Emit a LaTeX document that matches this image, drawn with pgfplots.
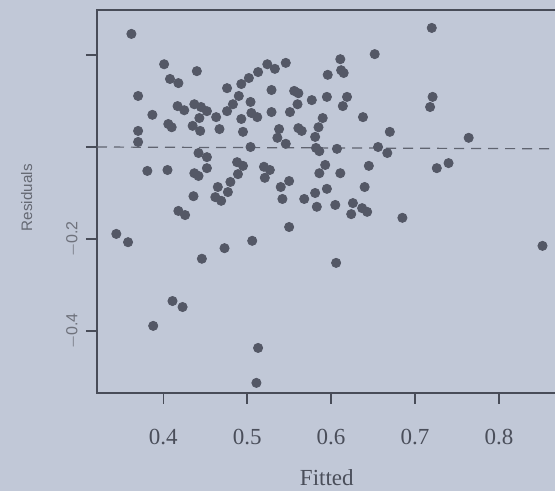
\documentclass[border=0pt]{standalone}
\usepackage{pgfplots}
\pgfplotsset{compat=1.18}
\usepackage{fontspec}
\setmainfont{Liberation Serif}
\newfontfamily\sansf{Liberation Sans}
\definecolor{bgcol}{RGB}{193,200,215}
\definecolor{ptcol}{RGB}{84,88,102}
\definecolor{axcol}{RGB}{72,76,88}
\definecolor{txtcol}{RGB}{74,78,90}
\definecolor{dashcol}{RGB}{96,100,112}
\begin{document}
\begin{tikzpicture}
\fill[bgcol] (0,0) rectangle (277.5pt,245.5pt);
\begin{axis}[
  at={(48.5pt,49pt)}, anchor=south west,
  scale only axis, width=234.5pt, height=191.5pt,
  xmin=0.321, xmax=0.88, ymin=-0.535, ymax=0.298,
  axis line style={axcol, line width=0.7pt},
  tick style={axcol, line width=0.7pt},
  tick align=outside, major tick length=5.5pt,
  xtick pos=bottom, ytick pos=left,
  xtick={0.4,0.5,0.6,0.7,0.8},
  xticklabels={0.4,0.5,0.6,0.7,0.8},
  ytick={-0.4,-0.2,0,0.2},
  yticklabels={{$-$0.4},{$-$0.2},{},{}},
  xticklabel style={font=\fontsize{11.5}{12}\selectfont, text=txtcol, yshift=-9pt},
  yticklabel style={font=\sansf\fontsize{8}{9}\selectfont, text=txtcol!80, rotate=90, anchor=south, xshift=0pt},
  xlabel={Fitted}, ylabel={Residuals},
  xlabel style={font=\fontsize{11.5}{12}\selectfont, text=txtcol, at={(axis description cs:0.49,0)}, anchor=center, yshift=-42.5pt},
  ylabel style={font=\sansf\fontsize{7.6}{8}\selectfont, text=txtcol!85, at={(ticklabel cs:0.51)}, anchor=south, yshift=10pt},
  clip=false,
]
\draw[dashcol, dash pattern=on 5pt off 3.5pt, line width=0.6pt] (axis cs:0.321,0) -- (axis cs:0.88,-0.004);
\addplot[only marks, mark=*, mark size=2.3pt, mark options={fill=ptcol, draw=ptcol}] coordinates {
(0.362,0.246) (0.401,0.180) (0.440,0.165) (0.408,0.148) (0.418,0.139)
(0.370,0.111) (0.417,0.089) (0.425,0.080) (0.437,0.093) (0.445,0.087)
(0.452,0.078) (0.387,0.070) (0.443,0.063) (0.463,0.065) (0.406,0.050)
(0.410,0.043) (0.435,0.046) (0.444,0.035) (0.467,0.039) (0.370,0.035)
(0.370,0.011) (0.442,-0.013) (0.452,-0.022) (0.381,-0.052) (0.405,-0.050)
(0.452,-0.046) (0.437,-0.057) (0.442,-0.063) (0.488,-0.033) (0.495,-0.041)
(0.489,-0.059) (0.480,-0.076) (0.465,-0.087) (0.477,-0.098) (0.436,-0.107)
(0.462,-0.109) (0.469,-0.117) (0.502,0.150) (0.493,0.137) (0.476,0.128)
(0.490,0.111) (0.483,0.093) (0.476,0.078) (0.504,0.098) (0.505,0.074)
(0.493,0.061) (0.495,0.033) (0.504,0.000)
(0.652,0.202) (0.611,0.191) (0.546,0.183) (0.524,0.180) (0.533,0.170)
(0.513,0.163) (0.596,0.157) (0.612,0.167) (0.615,0.161)
(0.529,0.124) (0.556,0.122) (0.561,0.117) (0.577,0.102) (0.595,0.109)
(0.619,0.109) (0.614,0.089) (0.560,0.093) (0.529,0.076) (0.551,0.076)
(0.512,0.065) (0.590,0.063) (0.638,0.065) (0.585,0.043) (0.538,0.039)
(0.561,0.041) (0.565,0.035) (0.670,0.033) (0.581,0.022) (0.536,0.020)
(0.546,0.007) (0.582,-0.002) (0.586,-0.009) (0.607,-0.004) (0.656,0.000)
(0.667,-0.013) (0.645,-0.041) (0.593,-0.039) (0.520,-0.043) (0.527,-0.050)
(0.586,-0.057) (0.611,-0.057) (0.521,-0.067) (0.550,-0.074) (0.540,-0.087)
(0.595,-0.091) (0.640,-0.087) (0.581,-0.100) (0.568,-0.113)
(0.418,-0.139) (0.426,-0.148) (0.344,-0.189) (0.358,-0.207) (0.473,-0.220)
(0.506,-0.204) (0.446,-0.243) (0.411,-0.335) (0.423,-0.348) (0.388,-0.389)
(0.511,-0.513) (0.513,-0.437)
(0.542,-0.113) (0.583,-0.130) (0.605,-0.126) (0.626,-0.122) (0.637,-0.133)
(0.643,-0.141) (0.624,-0.146) (0.685,-0.154) (0.550,-0.174) (0.606,-0.252)
(0.720,0.259) (0.721,0.109) (0.718,0.087) (0.764,0.020) (0.740,-0.035)
(0.726,-0.046) (0.852,-0.215)
};
\end{axis}
\pgfresetboundingbox
\path[use as bounding box] (0,0) rectangle (277.5pt,245.5pt);
\end{tikzpicture}
\end{document}
